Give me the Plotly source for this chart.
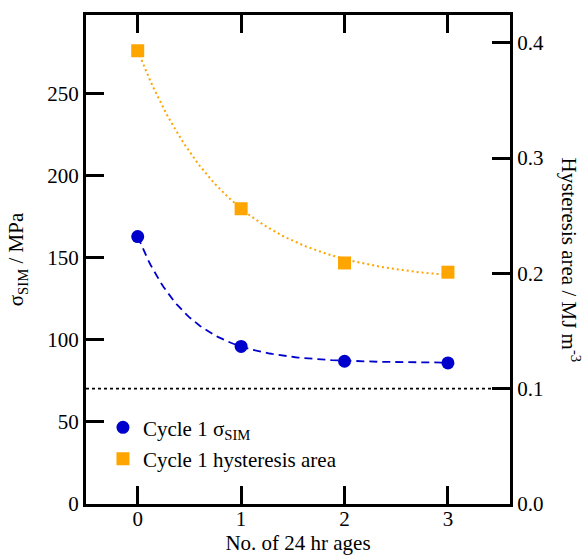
import numpy as np
import plotly.graph_objects as go

ages = [0, 1, 2, 3]
sigma_sim = [163, 96, 87, 86]            # MPa (left axis)
hyst_area = [0.393, 0.256, 0.209, 0.201]  # MJ m^-3 (right axis)
threshold = 0.1                            # right-axis reference line

# exponential-decay fit parameters (y = c + b*exp(-x/tau))
sig_fit = dict(c=86.0, b=77.0, tau=0.49)
hys_fit = dict(c=0.192, b=0.201, tau=0.875)

xf = np.linspace(0, 3, 121)
sig_curve = sig_fit["c"] + sig_fit["b"] * np.exp(-xf / sig_fit["tau"])
hys_curve = hys_fit["c"] + hys_fit["b"] * np.exp(-xf / hys_fit["tau"])

BLUE = "#0000cc"
ORANGE = "#ffa500"
FONT = "Liberation Serif"

fig = go.Figure()

fig.add_trace(go.Scatter(x=[-0.5, 3.6], y=[threshold, threshold], yaxis="y2", mode="lines",
                         line=dict(color="black", width=1.6, dash="3px,3px"),
                         showlegend=False, hoverinfo="skip"))
fig.add_trace(go.Scatter(x=xf, y=sig_curve, mode="lines",
                         line=dict(color=BLUE, width=1.8, dash="8px,5px"),
                         showlegend=False, hoverinfo="skip"))
fig.add_trace(go.Scatter(x=xf, y=hys_curve, yaxis="y2", mode="lines",
                         line=dict(color=ORANGE, width=2, dash="2px,3px"),
                         showlegend=False, hoverinfo="skip"))
fig.add_trace(go.Scatter(x=ages, y=sigma_sim, mode="markers",
                         marker=dict(symbol="circle", size=13, color=BLUE),
                         name="Cycle 1 σ<sub>SIM</sub>", legendgroup="a"))
fig.add_trace(go.Scatter(x=ages, y=hyst_area, yaxis="y2", mode="markers",
                         marker=dict(symbol="square", size=13, color=ORANGE),
                         name="Cycle 1 hysteresis area", legendgroup="b"))

axis_common = dict(showline=True, linecolor="black", linewidth=3, ticks="inside",
                   ticklen=18, tickwidth=3, tickcolor="black", showgrid=False,
                   zeroline=False, tickfont=dict(family=FONT, size=21, color="black"))

fig.update_layout(
    width=586, height=558,
    margin=dict(l=86, r=76, t=12, b=46),
    plot_bgcolor="white", paper_bgcolor="white",
    font=dict(family=FONT, size=21, color="black"),
    xaxis=dict(range=[-0.5, 3.6], tickvals=[0, 1, 2, 3], mirror="ticks", ticklabelstandoff=-6,
               title=dict(text="No. of 24 hr ages", font=dict(family=FONT, size=21), standoff=0),
               **axis_common),
    yaxis=dict(range=[0, 298], tickvals=[0, 50, 100, 150, 200, 250],
               title=dict(text="σ<sub>SIM</sub> / MPa", font=dict(family=FONT, size=21), standoff=18),
               **axis_common),
    yaxis2=dict(range=[0, 0.424], tickvals=[0, 0.1, 0.2, 0.3, 0.4], tickformat=".1f",
                overlaying="y", side="right", **axis_common),
    legend=dict(x=0.04, y=0.198, xanchor="left", yanchor="top", bgcolor="rgba(0,0,0,0)",
                font=dict(family=FONT, size=21), traceorder="grouped", tracegroupgap=1),
    annotations=[dict(text="Hysteresis area / MJ m<sup>-3</sup>", textangle=90,
                      xref="paper", yref="paper", x=1.0, xshift=60, xanchor="center",
                      y=0.5, yanchor="middle",
                      showarrow=False, font=dict(family=FONT, size=21))],
)

fig.write_html("out.html")
